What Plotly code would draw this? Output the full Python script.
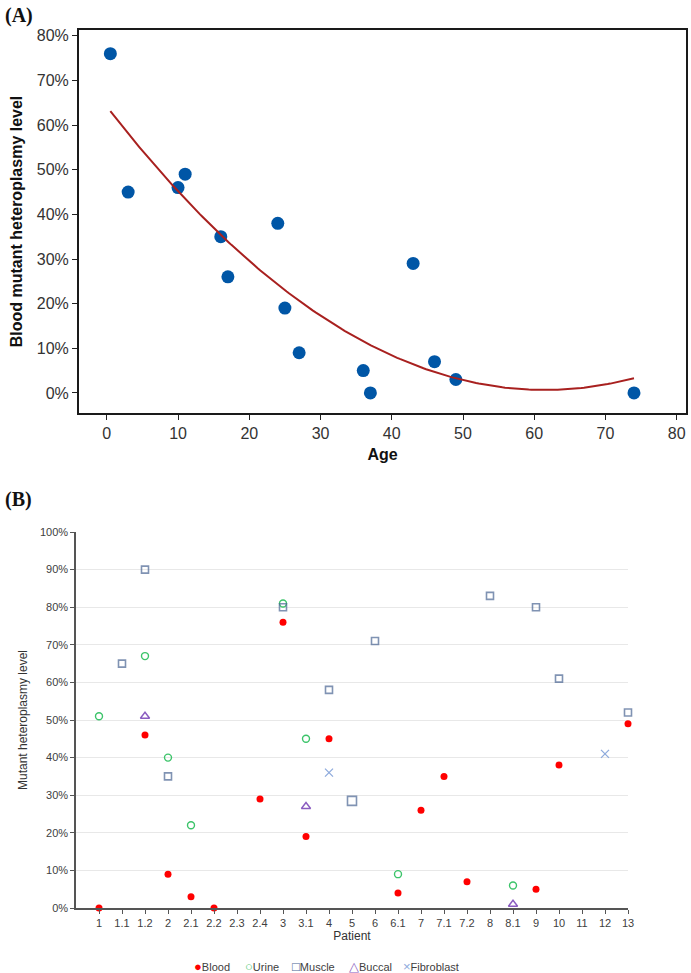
import numpy as np
import plotly.graph_objects as go

# ---------------- Panel A data ----------------
age = [0.5, 3, 10, 11, 16, 17, 24, 25, 27, 36, 37, 43, 46, 49, 74]
blood_level = [76, 45, 46, 49, 35, 26, 38, 19, 9, 5, 0, 29, 7, 3, 0]
age_ticks = [0, 10, 20, 30, 40, 50, 60, 70, 80]
level_ticks_a = [0, 10, 20, 30, 40, 50, 60, 70, 80]

# ---------------- Panel B data ----------------
patients = ["1", "1.1", "1.2", "2", "2.1", "2.2", "2.3", "2.4", "3", "3.1", "4", "5",
            "6", "6.1", "7", "7.1", "7.2", "8", "8.1", "9", "10", "11", "12", "13"]
blood_patients = ["1", "1.2", "2", "2.1", "2.2", "2.4", "3", "3.1", "4", "6.1", "7", "7.1", "7.2", "9", "10", "13"]
blood_values = [0, 46, 9, 3, 0, 29, 76, 19, 45, 4, 26, 35, 7, 5, 38, 49]
urine_patients = ["1", "1.2", "2", "2.1", "3", "3.1", "6.1", "8.1"]
urine_values = [51, 67, 40, 22, 81, 45, 9, 6]
muscle_patients = ["1.1", "1.2", "2", "3", "4", "5", "6", "8", "9", "10", "13"]
muscle_values = [65, 90, 35, 80, 58, 28.5, 71, 83, 80, 61, 52]
buccal_patients = ["1.2", "3.1", "8.1"]
buccal_values = [51, 27, 1]
fibro_patients = ["4", "12"]
fibro_values = [36, 41]
level_ticks_b = [0, 10, 20, 30, 40, 50, 60, 70, 80, 90, 100]
legend_names = ["Blood", "Urine", "Muscle", "Buccal", "Fibroblast"]
legend_symbols = ["●", "○", "□", "△", "×"]

W, H = 691, 973
def px(x): return x / W
def py(y): return 1 - y / H

COL = dict(Blood="#ff0000", Urine="#3cc46a", Muscle="#4a6593", Buccal="#8a5cc0", Fibroblast="#8eaadc")

fig = go.Figure()

# Panel A: scatter + quadratic trendline fitted to the data
fig.add_trace(go.Scatter(x=age, y=blood_level, mode="markers", showlegend=False,
                         marker=dict(color="#0056a6", size=13),
                         xaxis="x", yaxis="y", cliponaxis=False))
coef = np.polyfit(age, blood_level, 2)
xs = np.linspace(min(age), max(age), 200)
fig.add_trace(go.Scatter(x=xs, y=np.polyval(coef, xs), mode="lines", showlegend=False,
                         line=dict(color="#a8201f", width=2), xaxis="x", yaxis="y",
                         hoverinfo="skip"))

# Panel B
muscle_sizes = [9 if p == "5" else 7 for p in muscle_patients]
fig.add_trace(go.Scatter(x=blood_patients, y=blood_values, mode="markers", name="Blood",
                         marker=dict(symbol="circle", color=COL["Blood"], size=7),
                         xaxis="x2", yaxis="y2", cliponaxis=False, showlegend=False))
fig.add_trace(go.Scatter(x=urine_patients, y=urine_values, mode="markers", name="Urine",
                         marker=dict(symbol="circle-open", color=COL["Urine"], size=7,
                                     line=dict(width=1.4, color=COL["Urine"])),
                         xaxis="x2", yaxis="y2", cliponaxis=False, showlegend=False))
fig.add_trace(go.Scatter(x=muscle_patients, y=muscle_values, mode="markers", name="Muscle",
                         marker=dict(symbol="square-open", color=COL["Muscle"], size=muscle_sizes,
                                     line=dict(width=1.6, color=COL["Muscle"])),
                         xaxis="x2", yaxis="y2", cliponaxis=False, showlegend=False))
fig.add_trace(go.Scatter(x=buccal_patients, y=buccal_values, mode="markers", name="Buccal",
                         marker=dict(symbol="triangle-up-open", color=COL["Buccal"], size=8,
                                     line=dict(width=1.4, color=COL["Buccal"])),
                         xaxis="x2", yaxis="y2", cliponaxis=False, showlegend=False))
fig.add_trace(go.Scatter(x=fibro_patients, y=fibro_values, mode="markers", name="Fibroblast",
                         marker=dict(symbol="x-thin-open", color=COL["Fibroblast"], size=8,
                                     line=dict(width=1.3, color=COL["Fibroblast"])),
                         xaxis="x2", yaxis="y2", cliponaxis=False, showlegend=False))

font_a = dict(family="Liberation Sans, Arial, sans-serif", size=16, color="#333333")
font_b = dict(family="Liberation Sans, Arial, sans-serif", size=11, color="#404040")

annotations = [
    dict(text="<b>(A)</b>", x=px(3), y=py(2), xref="paper", yref="paper",
         xanchor="left", yanchor="top", showarrow=False,
         font=dict(family="Liberation Serif, Times New Roman, serif", size=20, color="#111")),
    dict(text="<b>(B)</b>", x=px(3), y=py(486), xref="paper", yref="paper",
         xanchor="left", yanchor="top", showarrow=False,
         font=dict(family="Liberation Serif, Times New Roman, serif", size=20, color="#111")),
]
# compact legend for panel B: one entry (symbol + label) per series
legend_x = [192, 243, 290, 347, 401]
for name, sym, lx in zip(legend_names, legend_symbols, legend_x):
    annotations.append(dict(
        text=f'<span style="color:{COL[name]};font-size:13px">{sym}</span>{name}',
        x=px(lx), y=py(966), xref="paper", yref="paper",
        xanchor="left", yanchor="middle", showarrow=False,
        font=dict(family="Liberation Sans, Arial, sans-serif", size=11, color="#404040")))

fig.update_layout(
    width=W, height=H, margin=dict(l=0, r=0, t=0, b=0),
    paper_bgcolor="white", plot_bgcolor="white", showlegend=False,
    font=dict(family="Liberation Sans, Arial, sans-serif", color="#333"),
    xaxis=dict(domain=[px(79), px(686)], anchor="y", range=[-3.9, 81.3], automargin=False,
               tickvals=age_ticks, ticktext=[str(v) for v in age_ticks],
               ticks="outside", ticklen=5, tickcolor="#222", ticklabeloverflow="allow",
               showline=True, linecolor="#1a1a1a", linewidth=2, mirror=True,
               showgrid=False, zeroline=False, tickfont=font_a,
               title=dict(text="<b>Age</b>", font=dict(family="Liberation Sans, Arial", size=16, color="#111"),
                          standoff=8)),
    yaxis=dict(domain=[py(413), py(30)], anchor="x", range=[-4.5, 81.3], automargin=False,
               tickvals=level_ticks_a, ticktext=[f"{v}%" for v in level_ticks_a],
               ticks="outside", ticklen=5, tickcolor="#222", ticklabeloverflow="allow",
               showline=True, linecolor="#1a1a1a", linewidth=2, mirror=True,
               showgrid=False, zeroline=False, tickfont=font_a,
               title=dict(text="<b>Blood mutant heteroplasmy level</b>",
                          font=dict(family="Liberation Sans, Arial", size=16, color="#111"),
                          standoff=10)),
    xaxis2=dict(domain=[px(76), px(628)], anchor="y2", type="category", automargin=False,
                categoryorder="array", categoryarray=patients,
                tickvals=patients, ticktext=patients, ticklabeloverflow="allow",
                range=[-1, 23], ticks="outside", ticklen=4, tickcolor="#555",
                showline=True, linecolor="#555", linewidth=1.5,
                showgrid=False, zeroline=False, tickfont=font_b,
                title=dict(text="Patient", font=dict(size=12, color="#333"), standoff=4)),
    yaxis2=dict(domain=[py(908), py(532)], anchor="x2", range=[0, 100], automargin=False,
                tickvals=level_ticks_b, ticktext=[f"{v}%" for v in level_ticks_b],
                ticks="outside", ticklen=4, tickcolor="#555", ticklabeloverflow="allow",
                showline=True, linecolor="#555", linewidth=1.5,
                showgrid=True, gridcolor="#e8e8e8", gridwidth=1, zeroline=False,
                tickfont=font_b,
                title=dict(text="Mutant heteroplasmy level", font=dict(size=12, color="#333"),
                           standoff=10)),
    annotations=annotations,
)

# remove the default page margin so the figure fills the window exactly
fig.write_html("out.html", config={"displayModeBar": False},
               post_script="document.body.style.margin='0px';document.body.style.overflow='hidden';")
